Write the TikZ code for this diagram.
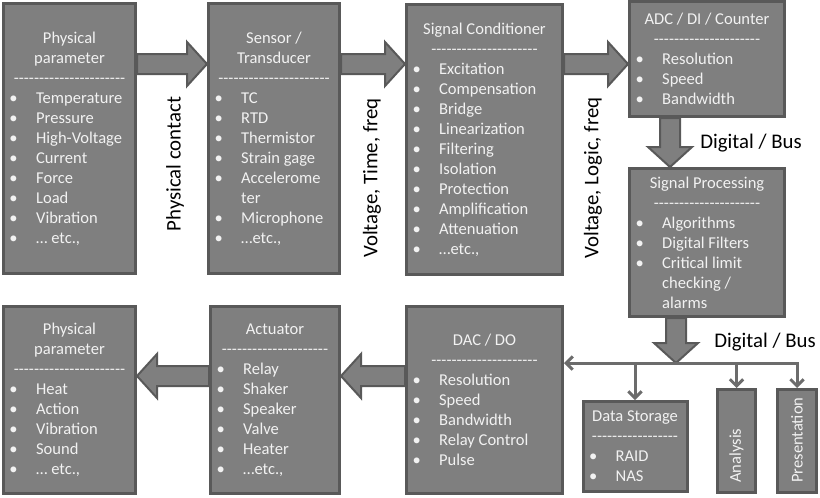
\documentclass[tikz,border=0pt]{standalone}
\usepackage{fontspec}
\setmainfont{Carlito}[Ligatures=TeXOff]
\usepackage{xcolor}
\usetikzlibrary{calc,arrows.meta}
\definecolor{boxfill}{HTML}{7F7F7F}
\definecolor{boxline}{HTML}{595959}
\definecolor{boxtext}{HTML}{F2F2F2}
\tikzset{>=latex}
\tikzset{
  box/.style={draw=boxline,fill=boxfill,line width=2.25pt,text=boxtext,inner xsep=4.5pt,inner ysep=0pt,font=\fontsize{12.4}{15}\selectfont},
  fat/.style={draw=boxline,fill=boxfill,line width=1.5pt,line join=miter},
  bus/.style={draw=boxfill!85!black,line width=2.25pt,>={Straight Barb[length=5pt,width=10pt]}},
  lbl/.style={font=\fontsize{15.6}{18}\selectfont,inner sep=0pt},
  vlbl/.style={text=boxtext,font=\fontsize{12.4}{15}\selectfont,inner sep=0pt,rotate=90,anchor=west}
}
\newcommand\boxhead[1]{\centerline{#1}}
\newcommand\boxitem[1]{\hbox{\makebox[20pt][l]{\textbullet}#1}}
\newcommand\boxcont[1]{\hbox{\hspace*{20pt}#1}}
% block arrows: start point, tip point, direction
\newcommand\fatH[3]{\draw[fat] ($#1+(0,10)$) -- ($#2+({-20*#3},10)$) -- ($#2+({-20*#3},22)$) -- #2 -- ($#2+({-20*#3},-22)$) -- ($#2+({-20*#3},-10)$) -- ($#1+(0,-10)$) -- cycle;}
\newcommand\fatV[2]{\draw[fat] ($#1+(10,0)$) -- ($#2+(10,-20)$) -- ($#2+(22,-20)$) -- #2 -- ($#2+(-22,-20)$) -- ($#2+(-10,-20)$) -- ($#1+(-10,0)$) -- cycle;}

\begin{document}
\begin{tikzpicture}[x=0.75pt,y=-0.75pt]
  \useasboundingbox (0,0) rectangle (820,497);

  % Input chain
  \node[box,minimum width=99pt,minimum height=202.5pt] (pin) at (69.5,138.5) {\parbox{90pt}{%
    \boxhead{Physical}\boxhead{parameter}\boxhead{----------------------}%
    \boxitem{Temperature}\boxitem{Pressure}\boxitem{High-Voltage}\boxitem{Current}%
    \boxitem{Force}\boxitem{Load}\boxitem{Vibration}\boxitem{… etc.,}}};
  \node[box,minimum width=98.25pt,minimum height=202.5pt] (sen) at (274,138.5) {\parbox{89.25pt}{%
    \boxhead{Sensor /}\boxhead{Transducer}\boxhead{----------------------}%
    \boxitem{TC}\boxitem{RTD}\boxitem{Thermistor}\boxitem{Strain gage}%
    \boxitem{Accelerome}\boxcont{ter}\boxitem{Microphone}\boxitem{…etc.,}}};
  \node[box,minimum width=117pt,minimum height=202.5pt] (sig) at (484.5,139.5) {\parbox{108pt}{%
    \boxhead{Signal Conditioner}\boxhead{---------------------}%
    \boxitem{Excitation}\boxitem{Compensation}\boxitem{Bridge}\boxitem{Linearization}%
    \boxitem{Filtering}\boxitem{Isolation}\boxitem{Protection}\boxitem{Amplification}%
    \boxitem{Attenuation}\boxitem{…etc.,}}};
  \node[box,minimum width=116.25pt,minimum height=86.25pt] (adc) at (707,59) {\parbox{107.25pt}{%
    \boxhead{ADC / DI / Counter}\boxhead{---------------------}%
    \boxitem{Resolution}\boxitem{Speed}\boxitem{Bandwidth}}};
  \node[box,minimum width=116.25pt,minimum height=111pt] (spr) at (707,242.5) {\parbox{107.25pt}{%
    \boxhead{Signal Processing}\boxhead{---------------------}%
    \boxitem{Algorithms}\boxitem{Digital Filters}\boxitem{Critical limit}%
    \boxcont{checking /}\boxcont{alarms}}};

  % Output chain
  \node[box,minimum width=117pt,minimum height=140.25pt] (dac) at (484.5,400) {\parbox{108pt}{%
    \boxhead{DAC / DO}\boxhead{---------------------}%
    \boxitem{Resolution}\boxitem{Speed}\boxitem{Bandwidth}\boxitem{Relay Control}\boxitem{Pulse}}};
  \node[box,minimum width=96.75pt,minimum height=140.25pt] (act) at (275,400) {\parbox{87.75pt}{%
    \boxhead{Actuator}\boxhead{---------------------}%
    \boxitem{Relay}\boxitem{Shaker}\boxitem{Speaker}\boxitem{Valve}\boxitem{Heater}\boxitem{…etc.,}}};
  \node[box,minimum width=99pt,minimum height=140.25pt] (pout) at (69.5,400) {\parbox{90pt}{%
    \boxhead{Physical}\boxhead{parameter}\boxhead{----------------------}%
    \boxitem{Heat}\boxitem{Action}\boxitem{Vibration}\boxitem{Sound}\boxitem{… etc.,}}};

  % Bus targets
  \node[box,minimum width=78pt,minimum height=67.5pt] (dst) at (635,446.5) {\parbox{69pt}{%
    \boxhead{Data Storage}\boxhead{-----------------}%
    \boxitem{RAID}\boxitem{NAS}}};
  \node[box,minimum width=28.5pt,minimum height=77.25pt] (ana) at (736.5,441) {};
  \node[box,minimum width=29.25pt,minimum height=77.25pt] (pre) at (797,441) {};
  \node[vlbl] (anat) at ($(ana.south)+(0,-11)$) {Analysis};
  \node[vlbl] (pret) at ($(pre.south)+(0,-11)$) {Presentation};

  % Block arrows
  \coordinate (r1) at (0,64);
  \coordinate (r2) at (0,376);
  \coordinate (c1) at (670,0);
  \coordinate (bus) at (676,363);
  \fatH{(pin.east |- r1)}{(sen.west |- r1)}{1}
  \fatH{(sen.east |- r1)}{(sig.west |- r1)}{1}
  \fatH{(sig.east |- r1)}{(adc.west |- r1)}{1}
  \fatV{(adc.south -| c1)}{(spr.north -| c1)}
  \fatV{(spr.south -| bus)}{(bus)}
  \fatH{(dac.west |- r2)}{(act.east |- r2)}{-1}
  \fatH{(act.west |- r2)}{(pout.east |- r2)}{-1}

  % Bus lines
  \draw[bus,<->] (dac.east |- bus) -- (pre.north |- bus) -- (pre.north);
  \draw[bus,->] (dst.north |- bus) -- (dst.north);
  \draw[bus,->] (ana.north |- bus) -- (ana.north);

  % Labels
  \node[lbl,rotate=90] (lpc) at (175,164) {Physical contact};
  \node[lbl,rotate=90] (lvt) at (372,178) {Voltage, Time, freq};
  \node[lbl,rotate=90] (lvl) at (593,178) {Voltage, Logic, freq};
  \node[lbl] (ldb1) at (751,143) {Digital / Bus};
  \node[lbl] (ldb2) at (765,342) {Digital / Bus};

\end{tikzpicture}
\end{document}
